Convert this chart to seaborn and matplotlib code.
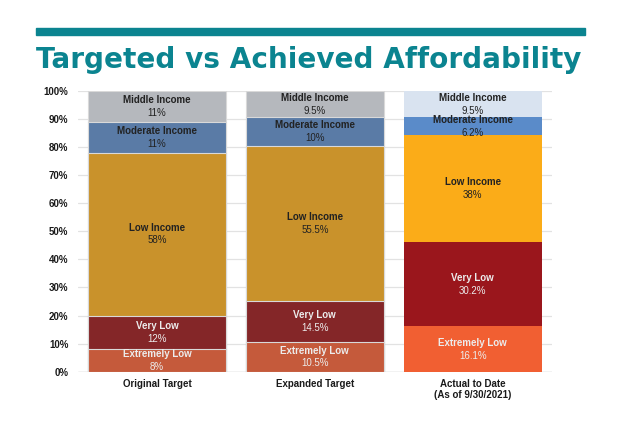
import pandas as pd
import matplotlib
matplotlib.use("Agg")
import matplotlib.pyplot as plt
import seaborn as sns
from matplotlib.patches import Rectangle

# data
targets = ["Original Target", "Expanded Target", "Actual to Date\n(As of 9/30/2021)"]
levels = ["Extremely Low", "Very Low", "Low Income", "Moderate Income", "Middle Income"]
extremely_low = [8, 10.5, 16.1]
very_low = [12, 14.5, 30.2]
low_income = [58, 55.5, 38]
moderate_income = [11, 10, 6.2]
middle_income = [11, 9.5, 9.5]
value_labels = {
    "Extremely Low": ["8%", "10.5%", "16.1%"],
    "Very Low": ["12%", "14.5%", "30.2%"],
    "Low Income": ["58%", "55.5%", "38%"],
    "Moderate Income": ["11%", "10%", "6.2%"],
    "Middle Income": ["11%", "9.5%", "9.5%"],
}

# colours per level (two target columns, then actual)
colors = {
    "Extremely Low": ["#c55a3b", "#c55a3b", "#f15f32"],
    "Very Low": ["#842628", "#842628", "#9a161c"],
    "Low Income": ["#c9922b", "#c9922b", "#fbac18"],
    "Moderate Income": ["#5a7ba6", "#5a7ba6", "#5a8bc9"],
    "Middle Income": ["#b5b8bd", "#b5b8bd", "#d9e3f0"],
}
text_colors = {
    "Extremely Low": "#ececec",
    "Very Low": "#ececec",
    "Low Income": "#222222",
    "Moderate Income": "#222222",
    "Middle Income": "#222222",
}

series = [extremely_low, very_low, low_income, moderate_income, middle_income]
rows = []
for lvl, vals in zip(levels, series):
    for t, v in zip(targets, vals):
        rows.append({"target": t, "level": lvl, "value": v})
df = pd.DataFrame(rows)
df["top"] = df.groupby("target")["value"].cumsum()
df["bottom"] = df["top"] - df["value"]

sns.set_style("white")
plt.rcParams["font.family"] = ["Liberation Sans", "DejaVu Sans"]

fig = plt.figure(figsize=(6.2, 4.28), dpi=100)
ax = fig.add_axes([0.1258, 0.1315, 0.764, 0.6565])

# stacked bars: draw cumulative tops from the highest layer down
for lvl in reversed(levels):
    sub = df[df["level"] == lvl]
    sns.barplot(data=sub, x="target", y="top", hue="target", order=targets,
                hue_order=targets, palette=colors[lvl], width=0.873,
                saturation=1, legend=False, ax=ax, linewidth=0, zorder=3)

for p in ax.patches:
    if p.get_x() + p.get_width() / 2 < 1.5:
        p.set_edgecolor("#d9d9d9")
        p.set_linewidth(0.8)

# segment labels
for _, r in df.iterrows():
    i = targets.index(r["target"])
    mid = (r["top"] + r["bottom"]) / 2
    ax.text(i, mid + 2.3, r["level"], ha="center", va="center", fontsize=7,
            fontweight="bold", color=text_colors[r["level"]], zorder=5)
    ax.text(i, mid - 2.3, value_labels[r["level"]][i], ha="center", va="center",
            fontsize=7, color=text_colors[r["level"]], zorder=5)

ax.set_xlim(-0.5, 2.5)
ax.set_ylim(0, 100)
ax.set_yticks(range(0, 101, 10))
ax.set_yticklabels([f"{v}%" for v in range(0, 101, 10)])
ax.yaxis.grid(True, color="#e2e2e2", linewidth=0.9, zorder=0)
ax.set_axisbelow(True)
ax.axhline(0, color="#cfcfcf", linewidth=1, zorder=2)
sns.despine(ax=ax, left=True, bottom=True)
ax.tick_params(axis="y", length=0, pad=7, labelsize=7)
ax.tick_params(axis="x", length=0, pad=5, labelsize=7)
for lab in ax.get_xticklabels() + ax.get_yticklabels():
    lab.set_fontweight("bold")
    lab.set_color("#1a1a1a")
ax.set_xlabel("")
ax.set_ylabel("")

# teal rule and title
fig.patches.append(Rectangle((36 / 620, 1 - 34.7 / 428), 549 / 620, 7 / 428,
                             transform=fig.transFigure, color="#0b8490",
                             figure=fig))
fig.text(36 / 620, 1 - 67.7 / 428, "Targeted vs Achieved Affordability",
         fontsize=20.1, fontweight="bold", color="#0b8490", ha="left",
         va="baseline", family=["DejaVu Sans"])

fig.savefig("out.png", dpi=100)
